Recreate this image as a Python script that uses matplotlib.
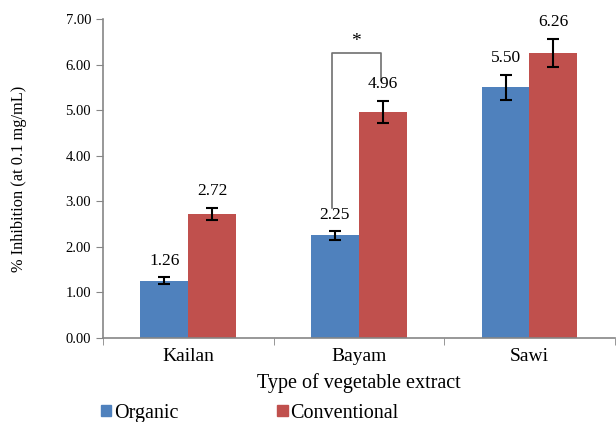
import numpy as np
import matplotlib.pyplot as plt
from matplotlib.patches import Patch
import matplotlib as mpl

mpl.rcParams['font.family'] = ['Liberation Serif', 'DejaVu Serif']

# Data
categories = ["Kailan", "Bayam", "Sawi"]
organic = [1.26, 2.25, 5.50]
organic_err = [0.07, 0.10, 0.28]
conventional = [2.72, 4.96, 6.26]
conventional_err = [0.14, 0.25, 0.31]
yticks = [0, 1, 2, 3, 4, 5, 6, 7]

blue = "#4F81BD"
red = "#C0504D"
gray = "#868686"

fig = plt.figure(figsize=(6.16, 4.22), dpi=100)
ax = fig.add_axes([0.167, 0.199, 0.831, 0.756])

x = np.arange(len(categories))
w = 0.28
ax.bar(x - w / 2, organic, w, color=blue, yerr=organic_err,
       error_kw=dict(ecolor="black", elinewidth=1.5, capsize=4, capthick=1.5))
ax.bar(x + w / 2, conventional, w, color=red, yerr=conventional_err,
       error_kw=dict(ecolor="black", elinewidth=1.5, capsize=4, capthick=1.5))

for xi, v, e in zip(x - w / 2, organic, organic_err):
    ax.text(xi, v + e + 0.18, f"{v:.2f}", ha="center", va="bottom", fontsize=12.5)
for xi, v, e in zip(x + w / 2, conventional, conventional_err):
    ax.text(xi, v + e + 0.18, f"{v:.2f}", ha="center", va="bottom", fontsize=12.5)

# significance bracket over Bayam
xl, xr = x[1] - w / 2 - 0.02, x[1] + w / 2 - 0.01
ax.plot([xl, xl, xr, xr], [2.85, 6.26, 6.26, 5.66], color="#707070", lw=1.2, clip_on=False)
ax.text((xl + xr) / 2, 6.32, "*", ha="center", va="bottom", fontsize=14)

ax.set_xlim(-0.5, 2.5)
ax.set_ylim(0, 7)
ax.set_yticks(yticks)
ax.set_yticklabels([f"{t:.2f}" for t in yticks], fontsize=10.5)
ax.set_xticks(x)
ax.set_xticklabels(categories, fontsize=14)
ax.set_xticks([-0.5, 0.5, 1.5, 2.5], minor=True)
ax.tick_params(axis="x", which="major", length=0, pad=7)
ax.tick_params(axis="x", which="minor", length=5, color=gray)
ax.tick_params(axis="y", length=5, color=gray)
for s in ["top", "right"]:
    ax.spines[s].set_visible(False)
for s in ["left", "bottom"]:
    ax.spines[s].set_color(gray)
    ax.spines[s].set_linewidth(1.2)

ax.set_xlabel("Type of vegetable extract", fontsize=14.5, labelpad=6)
ax.set_ylabel("% Inhibition (at 0.1 mg/mL)", fontsize=11.8, labelpad=28)

handles = [Patch(color=blue, label="Organic"), Patch(color=red, label="Conventional")]
fig.legend(handles=handles, loc="lower left", bbox_to_anchor=(0.135, -0.045), ncol=2,
           frameon=False, fontsize=14.5, handlelength=0.5, handleheight=0.5,
           handletextpad=0.15, columnspacing=4.9)

fig.savefig("out.png", dpi=100)
